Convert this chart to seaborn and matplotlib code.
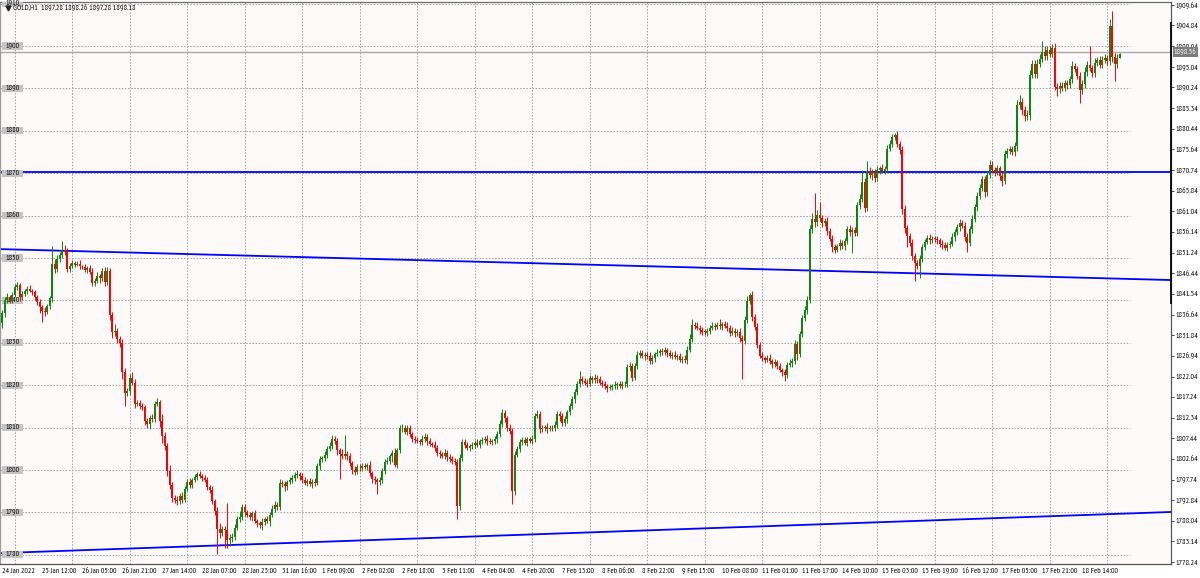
#---------------------------------------------------------
#%% Load libraries
import numpy as np
import pandas as pd
import matplotlib
matplotlib.use("Agg")
import matplotlib.pyplot as plt
import matplotlib.transforms as mtransforms
from matplotlib.patches import Rectangle
from matplotlib import font_manager as fm
import seaborn as sns

#%% Data: GOLD H1 candles (close per bar, one line per trading day)
first_open = 1834.6
close = [
    1837.0, 1840.2, 1840.8, 1839.9, 1841.3,  # 24 Jan
    1843.2, 1843.6, 1840.8, 1841.5, 1842.2, 1842.8, 1842.3, 1841.9, 1840.9, 1839.6, 1838.4, 1837.6, 1837.2, 1838.6, 1840.5, 1848.6, 1847.4, 1849.7, 1850.6, 1852.0, 1851.6, 1847.4, 1848.2,  # 25 Jan
    1848.9, 1848.4, 1848.7, 1848.0, 1847.9, 1847.2, 1847.6, 1846.8, 1844.2, 1844.6, 1845.8, 1845.2, 1846.9, 1844.3, 1847.0, 1836.5, 1832.5, 1832.9, 1830.8, 1830.0, 1823.0, 1818.2, 1818.6,  # 26 Jan
    1821.8, 1820.6, 1815.6, 1815.8, 1815.2, 1814.8, 1811.5, 1810.8, 1812.2, 1812.0, 1815.5, 1816.0, 1811.5, 1808.0, 1805.6, 1799.8, 1796.5, 1793.4, 1793.0, 1792.6, 1793.8, 1793.0, 1795.6,  # 27 Jan
    1797.2, 1796.4, 1797.6, 1798.4, 1799.0, 1798.6, 1798.2, 1797.6, 1796.0, 1795.4, 1792.6, 1790.4, 1786.0, 1785.2, 1786.0, 1785.8, 1783.5, 1784.0, 1784.2, 1786.4, 1788.5, 1789.0, 1791.2,  # 28 Jan
    1790.0, 1789.4, 1788.8, 1789.8, 1788.0, 1787.4, 1787.0, 1787.8, 1788.5, 1788.0, 1789.4, 1790.8, 1791.8, 1791.2, 1797.0, 1796.8, 1796.2, 1797.2, 1797.6, 1798.2, 1798.8, 1799.0, 1798.6,  # 31 Jan
    1797.6, 1797.0, 1797.4, 1796.8, 1797.2, 1797.0, 1801.0, 1802.6, 1802.8, 1803.6, 1805.0, 1805.6, 1807.2, 1806.8, 1804.6, 1803.8, 1803.4, 1803.8, 1803.2, 1801.6, 1800.0, 1799.6, 1800.6,  # 1 Feb
    1800.4, 1801.0, 1800.8, 1801.2, 1799.2, 1797.8, 1797.6, 1797.2, 1797.6, 1799.8, 1801.8, 1802.2, 1803.2, 1804.0, 1801.2, 1804.6, 1809.8, 1810.0, 1809.0, 1809.8, 1808.4, 1807.2, 1807.0,  # 2 Feb
    1806.8, 1806.6, 1807.4, 1807.8, 1806.8, 1806.2, 1806.0, 1805.2, 1804.0, 1803.8, 1803.4, 1804.0, 1803.0, 1802.6, 1802.2, 1801.8, 1791.4, 1802.8, 1806.6, 1805.8, 1805.2, 1805.6, 1805.8,  # 3 Feb
    1806.4, 1806.0, 1806.8, 1807.0, 1807.4, 1806.8, 1806.6, 1806.8, 1807.2, 1808.6, 1810.8, 1813.4, 1812.2, 1810.0, 1809.2, 1795.0, 1803.6, 1805.0, 1806.6, 1807.0, 1806.4, 1807.2, 1806.8,  # 4 Feb
    1807.4, 1812.8, 1813.2, 1809.6, 1809.8, 1810.2, 1809.6, 1810.0, 1809.8, 1810.6, 1813.2, 1812.8, 1811.0, 1812.0, 1813.6, 1815.0, 1816.8, 1818.4, 1820.2, 1821.4, 1821.0, 1820.6, 1820.2,  # 7 Feb
    1821.6, 1821.2, 1821.8, 1821.4, 1820.6, 1820.2, 1819.8, 1819.4, 1819.6, 1819.8, 1820.0, 1820.2, 1819.8, 1820.2, 1820.4, 1824.2, 1824.6, 1821.8, 1824.6, 1827.2, 1827.6, 1826.8, 1827.2,  # 8 Feb
    1827.0, 1825.7, 1826.4, 1827.4, 1827.6, 1828.0, 1827.8, 1828.2, 1827.6, 1827.0, 1827.2, 1826.6, 1826.8, 1826.0, 1826.2, 1826.0, 1828.4, 1831.0, 1834.2, 1834.0, 1833.6, 1833.0, 1832.6,  # 9 Feb
    1832.4, 1832.8, 1833.6, 1834.0, 1833.8, 1834.2, 1834.0, 1834.4, 1834.0, 1833.6, 1832.4, 1832.8, 1832.2, 1832.6, 1831.2, 1830.4, 1835.4, 1839.8, 1841.2, 1836.0, 1833.8, 1829.4, 1827.0,  # 10 Feb
    1826.4, 1826.0, 1826.4, 1825.6, 1825.0, 1825.4, 1824.6, 1823.6, 1823.0, 1822.4, 1824.8, 1825.2, 1825.8, 1829.8, 1827.4, 1832.0, 1835.8, 1837.8, 1840.2, 1856.8, 1859.2, 1858.4, 1860.2,  # 11 Feb
    1859.4, 1858.2, 1858.8, 1856.4, 1854.6, 1852.6, 1852.0, 1852.8, 1853.6, 1852.8, 1854.0, 1856.8, 1856.2, 1856.6, 1856.0, 1862.4, 1864.0, 1868.0, 1861.8, 1870.6, 1869.6, 1870.2, 1868.8,  # 14 Feb
    1870.8, 1871.2, 1870.6, 1871.0, 1875.8, 1877.0, 1878.6, 1879.0, 1876.8, 1875.4, 1861.6, 1857.0, 1855.2, 1853.6, 1850.4, 1848.8, 1848.2, 1849.8, 1852.6, 1853.8, 1854.8, 1854.2, 1854.6,  # 15 Feb
    1854.4, 1854.2, 1853.4, 1853.0, 1852.4, 1853.0, 1853.4, 1855.0, 1856.2, 1857.2, 1858.2, 1857.6, 1855.0, 1853.6, 1856.8, 1859.2, 1862.0, 1864.6, 1866.6, 1868.6, 1865.6, 1869.6, 1872.0,  # 16 Feb
    1870.8, 1870.2, 1871.2, 1869.4, 1868.2, 1874.6, 1875.2, 1875.6, 1875.0, 1876.4, 1886.0, 1886.8, 1885.0, 1883.4, 1883.8, 1893.2, 1895.8, 1893.4, 1895.8, 1897.0, 1898.6, 1897.6, 1899.0,  # 17 Feb
    1898.2, 1899.6, 1890.4, 1889.8, 1890.6, 1890.2, 1891.2, 1890.8, 1892.2, 1895.2, 1894.6, 1893.0, 1889.6, 1891.0, 1893.8, 1895.6, 1894.8, 1893.6, 1896.0, 1896.6, 1895.6, 1896.8, 1897.2, 1896.4, 1904.8, 1897.4, 1895.8, 1897.28, 1898.18,  # 18 Feb
]

# upper wick above the body, per bar
wick_up = [
    0.8, 0.6, 0.9, 0.5, 0.7,
    0.6, 0.8, 0.5, 0.7, 0.4, 0.6, 0.9, 0.5, 0.6, 0.4, 0.7, 0.5, 0.8, 0.6, 0.5, 4.3, 1.2, 0.9, 0.8, 1.9, 1.1, 0.7, 0.6,
    0.7, 0.5, 0.6, 0.8, 0.4, 0.6, 0.5, 0.7, 0.9, 0.6, 0.8, 0.5, 0.7, 1.0, 0.9, 0.6, 0.8, 1.6, 0.7, 0.9, 0.8, 1.0, 0.7,
    0.9, 1.4, 0.8, 0.6, 0.7, 0.5, 0.6, 0.8, 0.7, 0.9, 0.7, 1.0, 0.6, 1.8, 0.9, 0.8, 1.3, 0.7, 0.6, 0.8, 0.7, 0.9, 0.6,
    0.6, 0.8, 0.5, 0.7, 0.6, 0.8, 0.5, 0.6, 0.7, 0.5, 0.9, 0.6, 0.8, 1.5, 0.7, 0.9, 6.4, 0.8, 1.0, 0.9, 0.7, 1.4, 0.8,
    0.7, 0.5, 0.8, 0.6, 0.7, 0.5, 0.6, 0.8, 0.5, 0.7, 0.6, 0.9, 0.8, 0.6, 0.9, 0.7, 0.6, 0.5, 0.8, 0.6, 0.7, 1.0, 0.6,
    0.6, 0.8, 0.5, 0.7, 0.6, 0.9, 0.7, 0.8, 0.6, 0.9, 0.7, 1.0, 1.0, 0.8, 0.7, 0.6, 1.2, 4.4, 0.7, 0.8, 0.6, 0.9, 0.7,
    0.8, 0.6, 0.7, 0.5, 0.9, 0.6, 0.7, 0.5, 0.8, 0.6, 0.7, 0.9, 0.6, 0.8, 1.1, 0.7, 0.9, 0.8, 0.6, 0.7, 0.9, 0.6, 0.8,
    0.7, 0.6, 0.8, 0.9, 0.6, 0.7, 0.5, 0.8, 0.6, 0.7, 0.5, 0.9, 0.6, 0.7, 0.8, 0.6, 0.7, 0.9, 0.8, 0.6, 0.7, 0.5, 0.8,
    0.6, 0.8, 0.5, 0.7, 0.6, 0.9, 0.7, 0.5, 0.8, 0.6, 0.9, 0.9, 0.7, 0.6, 0.8, 0.7, 0.9, 0.6, 0.8, 0.7, 0.9, 0.6, 0.7,
    0.8, 0.7, 0.9, 0.6, 0.7, 0.5, 0.8, 0.6, 0.7, 0.9, 0.8, 0.6, 0.7, 0.8, 0.6, 0.9, 0.7, 0.8, 0.9, 2.0, 0.7, 0.6, 0.8,
    0.7, 0.6, 0.8, 0.5, 0.7, 0.6, 0.8, 0.5, 0.7, 0.6, 0.9, 0.5, 0.7, 0.8, 0.6, 0.9, 0.8, 0.7, 0.6, 0.9, 0.7, 0.8, 0.6,
    0.6, 0.8, 0.7, 0.5, 0.9, 0.6, 0.7, 0.8, 0.5, 0.7, 0.6, 0.8, 0.5, 0.7, 0.6, 0.9, 0.8, 1.0, 1.5, 0.7, 0.8, 0.6, 0.7,
    0.7, 0.8, 0.6, 0.9, 0.7, 0.8, 1.3, 0.6, 0.7, 0.8, 0.6, 0.9, 0.7, 0.6, 0.8, 0.7, 0.9, 1.2, 0.6, 1.0, 0.8, 0.9, 0.7,
    0.8, 0.6, 0.7, 0.9, 0.5, 0.8, 0.6, 0.7, 0.5, 0.8, 0.6, 0.9, 0.7, 0.8, 0.6, 0.9, 0.7, 0.8, 0.9, 1.0, 1.4, 6.1, 1.2,
    3.1, 0.8, 0.7, 0.9, 0.6, 0.8, 0.7, 0.5, 0.9, 0.6, 0.8, 0.7, 0.9, 0.6, 0.8, 0.9, 1.0, 2.8, 0.9, 2.2, 0.8, 0.7, 0.9,
    0.8, 0.6, 0.9, 0.7, 0.8, 0.9, 0.7, 0.6, 0.9, 0.8, 1.0, 0.9, 0.8, 0.7, 0.9, 0.8, 0.7, 0.9, 0.6, 0.8, 0.7, 0.9, 0.6,
    0.7, 0.8, 0.6, 0.9, 0.7, 0.8, 0.6, 0.9, 0.7, 0.8, 1.0, 0.7, 0.9, 0.8, 0.7, 0.9, 0.8, 1.0, 0.9, 0.8, 0.7, 0.9, 1.1,
    0.9, 0.7, 0.8, 0.6, 0.9, 0.8, 0.7, 0.9, 0.8, 1.0, 1.2, 1.6, 0.9, 0.8, 1.0, 1.1, 0.9, 0.8, 1.2, 1.0, 2.6, 1.4, 1.0,
    0.9, 0.8, 1.0, 0.9, 0.8, 1.0, 0.7, 0.9, 0.8, 1.2, 0.9, 0.8, 0.9, 1.0, 1.2, 0.9, 4.4, 0.8, 1.1, 0.9, 1.0, 0.8, 0.9, 0.7, 1.5, 3.4, 1.0, 0.9, 0.08,
]

# lower wick below the body, per bar
wick_dn = [
    1.2, 0.8, 0.9, 0.6, 0.5,
    0.5, 0.7, 0.9, 0.6, 0.5, 0.8, 0.4, 0.6, 0.7, 0.8, 1.4, 2.6, 0.9, 0.5, 0.6, 0.8, 1.0, 0.7, 0.6, 0.5, 0.9, 0.8, 0.6,
    0.6, 0.5, 0.4, 0.7, 0.6, 0.5, 0.8, 0.6, 0.9, 0.7, 0.5, 1.1, 0.6, 0.8, 0.7, 1.2, 1.3, 0.8, 0.9, 1.1, 1.6, 3.1, 0.8,
    0.8, 0.6, 0.9, 0.5, 0.7, 0.6, 0.8, 0.9, 1.2, 0.6, 0.7, 0.5, 1.4, 1.6, 0.8, 1.1, 1.0, 0.9, 0.7, 0.8, 0.6, 0.7, 0.5,
    0.5, 0.7, 0.6, 0.5, 0.8, 0.6, 0.7, 0.5, 0.6, 0.8, 0.7, 0.9, 5.9, 1.3, 0.8, 4.1, 1.8, 1.5, 0.9, 0.8, 0.6, 0.7, 0.9,
    0.8, 0.6, 0.7, 0.9, 0.5, 0.8, 0.6, 1.2, 0.7, 0.5, 1.3, 0.6, 0.8, 0.7, 0.6, 0.9, 1.1, 0.8, 0.5, 0.6, 0.8, 0.7, 0.9,
    0.7, 0.5, 0.8, 0.6, 1.1, 0.7, 0.6, 0.9, 0.7, 0.6, 0.8, 0.5, 0.7, 0.6, 1.0, 6.0, 0.9, 0.7, 0.8, 0.6, 0.9, 0.7, 0.6,
    0.6, 0.7, 0.5, 0.8, 0.6, 0.9, 1.0, 2.9, 0.7, 0.6, 0.8, 0.5, 0.7, 1.3, 0.6, 0.8, 0.7, 0.9, 0.6, 0.8, 0.7, 0.5, 0.6,
    0.5, 0.8, 0.6, 0.7, 0.9, 0.5, 0.6, 0.8, 0.7, 1.0, 0.6, 0.7, 0.9, 0.6, 0.8, 0.7, 3.0, 0.8, 0.6, 0.7, 0.5, 0.8, 0.6,
    0.7, 0.5, 0.8, 0.6, 0.7, 0.9, 0.5, 0.7, 0.6, 0.8, 0.7, 0.6, 0.9, 0.7, 0.8, 3.0, 0.9, 0.6, 0.8, 0.7, 0.6, 0.8, 0.5,
    0.6, 0.8, 0.5, 0.9, 0.6, 0.7, 0.8, 0.5, 0.7, 0.6, 0.8, 1.2, 0.7, 0.6, 0.8, 0.7, 0.5, 0.9, 0.6, 0.7, 0.8, 0.6, 0.7,
    0.5, 0.7, 0.6, 0.8, 0.5, 0.7, 0.6, 0.9, 0.5, 0.7, 0.6, 0.8, 0.5, 0.7, 0.6, 0.8, 0.9, 0.7, 0.6, 0.8, 0.7, 0.5, 0.9,
    0.8, 0.6, 0.7, 0.9, 0.5, 0.8, 0.6, 0.7, 0.9, 0.6, 0.8, 0.5, 0.7, 0.6, 0.8, 0.7, 0.9, 0.6, 0.7, 0.8, 0.6, 0.9, 0.7,
    0.6, 0.9, 0.7, 0.5, 0.8, 0.6, 0.7, 0.9, 0.6, 0.8, 0.7, 0.5, 0.8, 0.6, 0.9, 9.0, 0.7, 0.8, 0.6, 0.9, 0.8, 0.7, 0.6,
    0.7, 0.8, 0.6, 0.5, 0.9, 0.7, 0.8, 0.6, 0.9, 1.4, 0.7, 0.6, 0.8, 0.7, 1.5, 0.8, 0.6, 0.7, 0.9, 0.8, 1.0, 1.2, 0.9,
    0.7, 0.8, 0.6, 0.9, 0.7, 1.2, 0.8, 0.6, 0.9, 0.7, 0.8, 0.6, 0.9, 5.0, 0.8, 0.7, 0.9, 0.8, 1.0, 0.7, 0.8, 1.3, 0.9,
    0.7, 0.9, 0.6, 0.8, 0.7, 0.6, 0.9, 0.8, 0.7, 0.9, 1.2, 1.0, 2.7, 0.8, 0.9, 4.2, 0.9, 2.8, 0.7, 0.8, 0.6, 0.9, 0.7,
    0.6, 0.8, 0.7, 0.9, 0.6, 0.8, 0.7, 0.6, 0.9, 0.7, 0.8, 0.6, 0.9, 2.3, 0.7, 0.8, 0.6, 0.9, 0.7, 0.8, 1.2, 0.9, 0.8,
    0.8, 0.9, 0.7, 1.0, 1.2, 0.8, 0.9, 0.7, 0.8, 0.9, 1.1, 0.8, 1.2, 1.0, 0.9, 1.3, 0.8, 1.0, 0.9, 0.8, 0.7, 1.0, 0.9,
    0.8, 0.9, 0.7, 1.6, 0.8, 0.9, 0.7, 1.0, 0.8, 0.9, 0.7, 0.8, 3.0, 0.9, 0.8, 0.9, 0.7, 0.8, 0.9, 0.7, 0.8, 0.9, 0.7, 0.9, 0.8, 1.2, 4.0, 0.9, 0.0,
]

# time axis labels (one every 16 bars)
time_labels = ["24 Jan 2022", "25 Jan 12:00", "26 Jan 05:00", "26 Jan 21:00", "27 Jan 14:00",
               "28 Jan 07:00", "28 Jan 23:00", "31 Jan 16:00", "1 Feb 09:00", "2 Feb 02:00",
               "2 Feb 18:00", "3 Feb 11:00", "4 Feb 04:00", "4 Feb 20:00", "7 Feb 13:00",
               "8 Feb 06:00", "8 Feb 22:00", "9 Feb 15:00", "10 Feb 08:00", "11 Feb 01:00",
               "11 Feb 17:00", "14 Feb 10:00", "15 Feb 03:00", "15 Feb 19:00", "16 Feb 12:00",
               "17 Feb 05:00", "17 Feb 21:00", "18 Feb 14:00"]
bars_per_label = 16
bars_per_day = 23
first_day_start = 5

# price scale on the right
price_ticks = [1909.64, 1904.84, 1899.94, 1895.04, 1890.24, 1885.34, 1880.44, 1875.64, 1870.74,
               1865.84, 1861.04, 1856.14, 1851.24, 1846.44, 1841.54, 1836.64, 1831.84, 1826.94,
               1822.04, 1817.24, 1812.34, 1807.44, 1802.64, 1797.74, 1792.84, 1788.04, 1783.14, 1778.24]
# round levels with labels on the left
levels = [1910, 1900, 1890, 1880, 1870, 1860, 1850, 1840, 1830, 1820, 1810, 1800, 1790, 1780]

# drawn objects
res_level = 1870.2
trend_bars = [-0.8, 467.6]
upper_trend = [1852.1, 1844.8]
lower_trend = [1780.4, 1790.1]
bid_price = 1898.56
title_text = "GOLD,H1  1897.28 1898.26 1897.28 1898.18"

#%% Build OHLC
close = np.array(close)
assert len(close) == len(wick_up) == len(wick_dn), (len(close), len(wick_up), len(wick_dn))
opn = np.concatenate([[first_open], close[:-1]])
high = np.maximum(opn, close) + np.array(wick_up)
low = np.minimum(opn, close) - np.array(wick_dn)
bars = np.arange(len(close))
up = close >= opn

#%% Style: pick a narrow sans like the terminal font
sns.set_style("white")
installed = {f.name for f in fm.fontManager.ttflist}
narrow = next((f for f in ['Liberation Sans Narrow', 'PT Sans Narrow', 'Arial Narrow',
                           'Archivo Narrow', 'Roboto Condensed', 'Fira Sans Condensed',
                           'IBM Plex Sans Condensed', 'Open Sans Condensed',
                           'Encode Sans Condensed', 'Liberation Sans'] if f in installed),
              'DejaVu Sans')
plt.rcParams['font.family'] = [narrow, 'DejaVu Sans']

W, H = 1200, 578
fig = plt.figure(figsize=(W / 100, H / 100), dpi=100)
fig.patch.set_facecolor('white')

# size the font so a price label is ~22 px wide, as in the terminal
renderer = fig.canvas.get_renderer()
probe = fig.text(0, 0, "1909.64", fontsize=10)
FS = 10 * 22.5 / probe.get_window_extent(renderer).width
probe.remove()

green = '#0b870b'
red = '#ff0000'
grid_c = '#a3a3a3'
txt_c = '#000000'
dot = (0, (1.6, 1.6))

ax = fig.add_axes([0, 14 / H, 1171 / W, 562 / H])
ax.set_facecolor('#fffafa')
ax.set_xlim(-0.8, 467.6)
ax.set_ylim(1777.83, 1910.38)

# grid: round price levels and day separators
grid_end = 451
for lvl in levels:
    ax.plot([-0.8, grid_end], [lvl, lvl], color=grid_c, lw=0.7, ls=dot, zorder=1)
day_starts = np.arange(first_day_start, len(close), bars_per_day)
for d in day_starts:
    ax.axvline(d, color=grid_c, lw=0.7, ls=dot, zorder=1)

# bid line
ax.axhline(bid_price, color='#a8a8a8', lw=1.0, zorder=1.5)

# blue support / resistance lines drawn through seaborn
lines_df = pd.DataFrame({
    'bar': trend_bars * 3,
    'price': upper_trend + lower_trend + [res_level, res_level],
    'line': ['upper'] * 2 + ['lower'] * 2 + ['level'] * 2,
})
sns.lineplot(data=lines_df, x='bar', y='price', units='line', estimator=None,
             color='#0000ff', lw=1.3, ax=ax, zorder=2, legend=False)

# left level tags
blend = mtransforms.blended_transform_factory(ax.transAxes, ax.transData)
for lvl in levels:
    ax.add_patch(Rectangle((2 / 1171, lvl - 0.85), 21 / 1171, 1.7, transform=blend,
                           facecolor='#c4c4c4', edgecolor='none', zorder=3))
    ax.text(12.5 / 1171, lvl, str(lvl), transform=blend, fontsize=FS, color=txt_c,
            ha='center', va='center', zorder=3.1)

# candles
body = np.where(np.abs(close - opn) < 0.2, 0.2, close - opn)
for mask, col in [(up, green), (~up, red)]:
    ax.vlines(bars[mask], low[mask], high[mask], color=col, lw=0.7, zorder=4)
    ax.bar(bars[mask], body[mask], bottom=opn[mask], width=0.72, color=col,
           linewidth=0, zorder=4)

# header text and symbol
ax.plot([2.2], [1908.9], marker='v', color='#222222', markersize=3.5, zorder=6, clip_on=False)
ax.text(13 / 1171, 1908.95, title_text, transform=blend, fontsize=FS, color=txt_c,
        ha='left', va='center', zorder=6)

# axes
ax.set_xlabel('')
ax.set_ylabel('')
ax.yaxis.tick_right()
ax.set_yticks(price_ticks)
ax.set_yticklabels([f"{p:.2f}" for p in price_ticks])
ax.tick_params(axis='y', direction='out', length=2.5, width=0.6, color='#222222',
               labelsize=FS, pad=1.0, labelcolor=txt_c)
ax.set_xticks(np.arange(len(time_labels)) * bars_per_label)
ax.set_xticklabels(time_labels)
ax.tick_params(axis='x', direction='out', length=2.5, width=0.6, color='#222222',
               labelsize=FS, pad=0.6, labelcolor=txt_c)
for lab in ax.get_xticklabels():
    lab.set_horizontalalignment('left')

ax.text(1.0025, bid_price, f"{bid_price:.2f}", transform=blend, fontsize=FS, color='white',
        ha='left', va='center', zorder=7, clip_on=False,
        bbox=dict(boxstyle='square,pad=0.15', facecolor='#7d7d7d', edgecolor='none'))

for side in ['left', 'top', 'bottom', 'right']:
    ax.spines[side].set_visible(True)
ax.spines['left'].set_color('#9a9a9a')
ax.spines['top'].set_color('#6a6a6a')
ax.spines['bottom'].set_color('#555555')
ax.spines['right'].set_color('#555555')
for side in ax.spines:
    ax.spines[side].set_linewidth(0.9)
# darker scale marker along the upper part of the price scale
ax.plot([1.0, 1.0], [1905.7, 1839.2], transform=blend, color='#111111', lw=1.4,
        zorder=8, clip_on=False, solid_capstyle='butt')

fig.savefig('out.png', dpi=100)
